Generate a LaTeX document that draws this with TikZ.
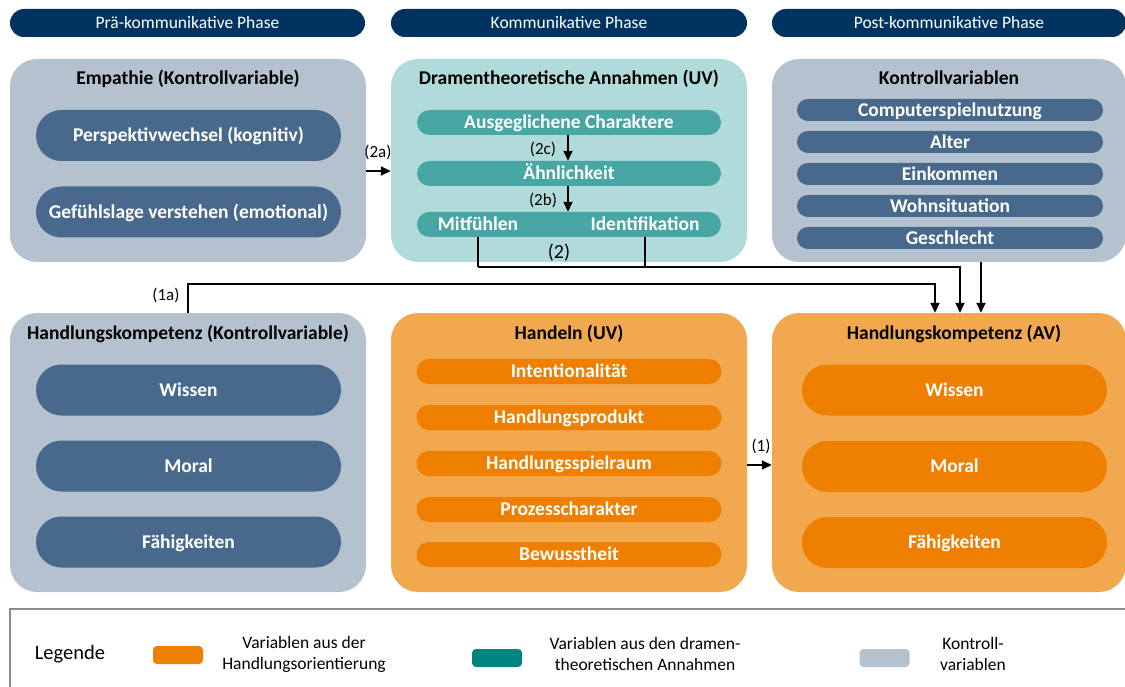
\documentclass[tikz,border=0pt]{standalone}
\usepackage{fontspec}
\setmainfont{Carlito}
\usetikzlibrary{arrows.meta}
\definecolor{navy}{RGB}{0,51,96}
\definecolor{boxgray}{RGB}{180,194,207}
\definecolor{slate}{RGB}{72,105,139}
\definecolor{teallight}{RGB}{177,219,218}
\definecolor{tealpill}{RGB}{72,166,165}
\definecolor{orangelight}{RGB}{242,168,79}
\definecolor{orangepill}{RGB}{238,127,0}
\definecolor{tealdark}{RGB}{0,132,127}
\definecolor{legline}{RGB}{140,140,140}
\tikzset{
  outer/.style={rounded corners=27pt, minimum width=356pt, inner sep=0pt},
  hdr/.style={fill=navy, text=white, rounded corners=13.9pt, minimum height=28pt, inner sep=0pt,
     font=\fontsize{17.5}{20}\selectfont, text height=11.2pt, text depth=0pt},
  ttl/.style={font=\bfseries\fontsize{19.5}{22}\selectfont, text height=12.5pt, text depth=0pt, inner sep=0pt},
  pillbase/.style={text=white, font=\bfseries\fontsize{19.5}{22}\selectfont, text height=12.5pt, text depth=0pt, inner sep=0pt},
  bigpill/.style={pillbase, minimum width=305pt, minimum height=51pt, rounded corners=25.4pt},
  smallpill/.style={pillbase, minimum width=305pt, minimum height=25pt, rounded corners=12.4pt},
  tinypill/.style={pillbase, minimum width=306pt, minimum height=22pt, rounded corners=10.9pt},
  lbl/.style={font=\fontsize{17}{20}\selectfont, inner sep=0pt},
  arr/.style={line width=1.7pt, -{Triangle[length=10pt,width=9pt]}},
  conn/.style={line width=1.7pt},
  legtxt/.style={font=\fontsize{17.5}{21}\selectfont, align=center, inner sep=0pt},
  swatch/.style={rounded corners=4pt, minimum width=50pt, minimum height=18pt, inner sep=0pt},
}
\begin{document}
\begin{tikzpicture}[x=1pt,y=-1pt]
\useasboundingbox (0,0) rectangle (1125,687);
% phase headers
\node[hdr, minimum width=355pt] (h1) at (187.5,23) {Prä-kommunikative Phase};
\node[hdr, minimum width=356pt] (h2) at (569,23) {Kommunikative Phase};
\node[hdr, minimum width=354pt] (h3) at (949,23) {Post-kommunikative Phase};

% top boxes
\node[outer, fill=boxgray, minimum height=203pt] (emp) at (188,160.5) {};
\node[outer, fill=teallight, minimum height=203pt] (dra) at (569,160.5) {};
\node[outer, fill=boxgray, minimum height=203pt, minimum width=354pt] (kv) at (949,160.5) {};
% bottom boxes
\node[outer, fill=boxgray, minimum height=279pt] (hk) at (188,452.5) {};
\node[outer, fill=orangelight, minimum height=279pt] (hd) at (569,452.5) {};
\node[outer, fill=orangelight, minimum height=279pt, minimum width=354pt] (av) at (949,452.5) {};

% titles
\node[ttl] (t1) at (188,78) {Empathie (Kontrollvariable)};
\node[ttl] (t2) at (569,78) {Dramentheoretische Annahmen (UV)};
\node[ttl] (t3) at (949,78) {Kontrollvariablen};
\node[ttl] (t4) at (188,333) {Handlungskompetenz (Kontrollvariable)};
\node[ttl] (t5) at (569,333) {Handeln (UV)};
\node[ttl] (t6) at (954,333) {Handlungskompetenz (AV)};

% Empathie pills
\node[bigpill, fill=slate] (pw) at (188.5,135.5) {Perspektivwechsel (kognitiv)};
\node[bigpill, fill=slate] (gv) at (188.5,212) {Gefühlslage verstehen (emotional)};

% Drama pills
\node[smallpill, fill=tealpill, minimum width=304pt] (ac) at (569,122.5) {Ausgeglichene Charaktere};
\node[smallpill, fill=tealpill, minimum width=304pt] (ah) at (569,173.5) {Ähnlichkeit};
\node[smallpill, fill=tealpill, minimum width=304pt] (mi) at (569,224.5) {};
\node[pillbase] (mit) at (478,224.5) {Mitfühlen};
\node[pillbase] (ide) at (645,224.5) {Identifikation};

% Kontrollvariablen pills
\node[tinypill, fill=slate] (k1) at (950,110) {Computerspielnutzung};
\node[tinypill, fill=slate] (k2) at (950,142) {Alter};
\node[tinypill, fill=slate] (k3) at (950,174) {Einkommen};
\node[tinypill, fill=slate] (k4) at (950,206) {Wohnsituation};
\node[tinypill, fill=slate] (k5) at (950,238) {Geschlecht};

% Handlungskompetenz (Kontrollvariable) pills
\node[bigpill, fill=slate] (w1) at (188.5,390) {Wissen};
\node[bigpill, fill=slate] (m1) at (188.5,466) {Moral};
\node[bigpill, fill=slate] (f1) at (188.5,542) {Fähigkeiten};

% Handeln pills
\node[smallpill, fill=orangepill] (i1) at (569,371.5) {Intentionalität};
\node[smallpill, fill=orangepill] (i2) at (569,417.5) {Handlungsprodukt};
\node[smallpill, fill=orangepill] (i3) at (569,463.5) {Handlungsspielraum};
\node[smallpill, fill=orangepill] (i4) at (569,509.5) {Prozesscharakter};
\node[smallpill, fill=orangepill] (i5) at (569,554.5) {Bewusstheit};

% AV pills
\node[bigpill, fill=orangepill] (w2) at (954.5,390) {Wissen};
\node[bigpill, fill=orangepill] (m2) at (954.5,466.5) {Moral};
\node[bigpill, fill=orangepill] (f2) at (954.5,542.5) {Fähigkeiten};

% connectors
\draw[arr] ([yshift=-10.5pt]emp.east) -- ([yshift=-10.5pt]dra.west);
\node[lbl] (l2a) at (378,152) {(2a)};
\draw[arr] ([xshift=-1pt]ac.south) -- ([xshift=-1pt]ah.north);
\node[lbl] (l2c) at (543,149) {(2c)};
\draw[arr] ([xshift=-1pt]ah.south) -- ([xshift=-1pt]mi.north);
\node[lbl] (l2b) at (543,200) {(2b)};

\draw[conn] (mit |- mi.south) -- ++(0,30) coordinate (j1);
\draw[conn] (ide |- mi.south) -- ++(0,30);
\draw[arr] (j1) -| ([xshift=11pt]av.north);
\node[lbl, font=\fontsize{20}{24}\selectfont] (l2) at (559,253) {(2)};

\draw[arr] (hk.north) -- ++(0,-29) -| ([xshift=-14pt]av.north);
\node[lbl] (l1a) at (166,295) {(1a)};

\draw[arr] ([xshift=32pt]kv.south) -- ([xshift=32pt]av.north);

\draw[arr] ([yshift=-12.5pt]hd.east) -- ([yshift=-12.5pt]av.west);
\node[lbl] (l1) at (761,446) {(1)};

% legend
\draw[legline, line width=1.3pt] (10,687) -- (10,609) -- (1125,609);
\node[font=\fontsize{20.5}{24}\selectfont, inner sep=0pt] (leg) at (70,654) {Legende};
\node[swatch, fill=orangepill] (s1) at (178,655) {};
\node[legtxt] (lt1) at (304,654) {Variablen aus der\\Handlungsorientierung};
\node[swatch, fill=tealdark] (s2) at (497,658) {};
\node[legtxt] (lt2) at (645,654) {Variablen aus den dramen-\\theoretischen Annahmen};
\node[swatch, fill=boxgray] (s3) at (884.5,658) {};
\node[legtxt] (lt3) at (973,654) {Kontroll-\\variablen};
\end{tikzpicture}
\end{document}
